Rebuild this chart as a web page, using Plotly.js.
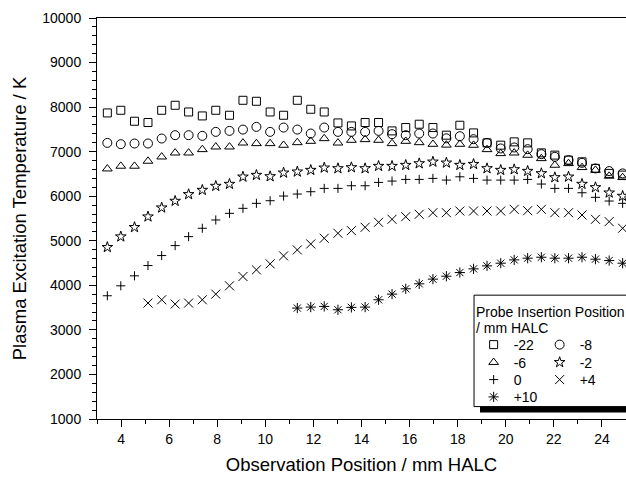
<!DOCTYPE html>
<html>
<head>
<meta charset="utf-8">
<script src="https://cdn.plot.ly/plotly-3.0.1.min.js"></script>
<style>html,body{margin:0;padding:0;background:#fff;}#chart{width:626px;height:477px;}</style>
</head>
<body>
<div id="chart"></div>
<script>
// Observation positions (mm HALC)
var obsPos = [3.43, 3.99, 4.56, 5.12, 5.69, 6.25, 6.81, 7.38, 7.94, 8.51, 9.07, 9.63, 10.20, 10.76, 11.33, 11.89, 12.45, 13.02, 13.58, 14.15, 14.71, 15.27, 15.84, 16.40, 16.97, 17.53, 18.09, 18.66, 19.22, 19.79, 20.35, 20.91, 21.48, 22.04, 22.61, 23.17, 23.73, 24.30, 24.86];

// Plasma excitation temperature (K) for each probe insertion position
var tMinus22 = [7869, 7929, 7683, 7654, 7929, 8041, 7891, 7802, 7929, 7817, 8153, 8131, 7891, 7817, 8153, 7952, 7891, 7645, 7578, 7654, 7654, 7466, 7541, 7616, 7541, 7370, 7593, 7421, 7197, 7146, 7220, 7197, 6973, 6922, 6810, 6772, 6624, 6512, 6474];
var tMinus8  = [7197, 7168, 7183, 7183, 7295, 7370, 7370, 7355, 7444, 7466, 7496, 7556, 7444, 7541, 7496, 7407, 7541, 7444, 7444, 7444, 7466, 7392, 7370, 7407, 7407, 7300, 7347, 7280, 7197, 7072, 7094, 7056, 6944, 6884, 6810, 6750, 6624, 6564, 6512];
var tMinus6  = [6615, 6676, 6676, 6788, 6884, 6973, 6973, 7049, 7108, 7108, 7197, 7183, 7183, 7146, 7205, 7235, 7295, 7197, 7258, 7273, 7258, 7183, 7235, 7205, 7168, 7150, 7168, 7146, 7049, 6959, 6973, 6922, 6847, 6698, 6735, 6646, 6586, 6452, 6422];
var tMinus2  = [4855, 5093, 5303, 5541, 5742, 5892, 6042, 6138, 6228, 6273, 6436, 6474, 6444, 6526, 6549, 6586, 6638, 6624, 6646, 6624, 6676, 6676, 6698, 6735, 6772, 6750, 6698, 6720, 6624, 6586, 6601, 6564, 6512, 6422, 6436, 6273, 6198, 6078, 6004];
var tZero    = [3766, 3989, 4213, 4444, 4668, 4892, 5093, 5281, 5467, 5616, 5728, 5840, 5899, 6004, 6049, 6101, 6176, 6176, 6235, 6235, 6310, 6340, 6377, 6377, 6400, 6362, 6436, 6400, 6362, 6362, 6362, 6377, 6273, 6176, 6176, 6078, 5975, 5892, 5840];
var tPlus4   = [null, null, null, 3602, 3676, 3580, 3602, 3676, 3803, 3989, 4198, 4347, 4482, 4661, 4795, 4929, 5056, 5168, 5228, 5303, 5415, 5482, 5541, 5594, 5630, 5630, 5668, 5668, 5668, 5668, 5706, 5675, 5706, 5630, 5630, 5579, 5482, 5430, 5281];
var tPlus10  = [null, null, null, null, null, null, null, null, null, null, null, null, null, null, 3490, 3512, 3527, 3452, 3505, 3512, 3676, 3803, 3922, 4034, 4139, 4205, 4287, 4370, 4437, 4497, 4571, 4609, 4631, 4609, 4609, 4631, 4587, 4556, 4497];

var seriesNames = ['-22', '-8', '-6', '-2', '0', '+4', '+10'];
var seriesData = [tMinus22, tMinus8, tMinus6, tMinus2, tZero, tPlus4, tPlus10];
var seriesSymbols = ['square-open', 'circle-open', 'triangle-up-open', 'star-open', 'cross-thin-open', 'x-thin-open', 'asterisk-open'];
var seriesSizes = [8, 9, 8.5, 8, 6.5, 9, 8.5];
var seriesLegend = ['legend', 'legend', 'legend2', 'legend2', 'legend3', 'legend3', 'legend4'];

var legendTitleLines = ['Probe Insertion Position', '/ mm HALC'];

var FONT = 'Liberation Sans, Arial, Helvetica, sans-serif';

var traces = seriesNames.map(function (nm, k) {
  return {
    type: 'scatter', mode: 'markers', name: nm,
    x: obsPos, y: seriesData[k],
    legend: seriesLegend[k],
    marker: {symbol: seriesSymbols[k], size: seriesSizes[k], color: '#000',
             line: {color: '#000', width: 1}},
    hoverinfo: 'x+y+name'
  };
});

function legendRow(yv) {
  return {
    x: 0.712, xanchor: 'left', y: yv, yanchor: 'middle',
    orientation: 'h', bgcolor: 'rgba(0,0,0,0)', borderwidth: 0,
    font: {family: FONT, size: 14, color: '#000'},
    entrywidth: 21, entrywidthmode: 'pixels',
    itemclick: false, itemdoubleclick: false, tracegroupgap: 0
  };
}

var layout = {
  width: 626, height: 477,
  margin: {l: 97, r: 0, t: 18, b: 58, pad: 0},
  paper_bgcolor: '#fff', plot_bgcolor: '#fff',
  font: {family: FONT, size: 14, color: '#000'},
  showlegend: true,
  xaxis: {
    range: [3, 25], tick0: 0, dtick: 2, ticks: 'outside', ticklen: 7, tickwidth: 1,
    tickcolor: '#000', showline: true, linecolor: '#000', linewidth: 1, mirror: true,
    showgrid: false, zeroline: false,
    minor: {dtick: 1, ticks: 'outside', ticklen: 4, tickwidth: 1, tickcolor: '#000', showgrid: false},
    tickfont: {family: FONT, size: 14, color: '#000'},
    title: {text: 'Observation Position / mm HALC', font: {family: FONT, size: 18.5, color: '#000'}, standoff: 12}
  },
  yaxis: {
    range: [1000, 10000], tick0: 0, dtick: 1000, tickformat: 'd', ticks: 'outside', ticklen: 7, tickwidth: 1,
    tickcolor: '#000', showline: true, linecolor: '#000', linewidth: 1, mirror: true,
    showgrid: false, zeroline: false, ticklabelstandoff: 5,
    minor: {dtick: 200, ticks: 'outside', ticklen: 4, tickwidth: 1, tickcolor: '#000', showgrid: false},
    tickfont: {family: FONT, size: 14, color: '#000'},
    title: {text: 'Plasma Excitation Temperature / K', font: {family: FONT, size: 18.5, color: '#000'}, standoff: 10}
  },
  legend: legendRow(0.1845),
  legend2: legendRow(0.1404),
  legend3: legendRow(0.0973),
  legend4: legendRow(0.0541),
  annotations: legendTitleLines.map(function (t, k) {
    return {text: t, xref: 'paper', yref: 'paper', x: 0.7146, xanchor: 'left',
            y: [0.2676, 0.2262][k], yanchor: 'middle', showarrow: false,
            font: {family: FONT, size: 14, color: '#000'}, borderpad: 0};
  }),
  shapes: [
    {type: 'rect', xref: 'paper', yref: 'paper', x0: 0.724, x1: 1.02, y0: 0.0160, y1: 0.0310,
     fillcolor: '#000', line: {width: 0}, layer: 'above'},
    {type: 'rect', xref: 'paper', yref: 'paper', x0: 0.7127, x1: 1.02, y0: 0.0310, y1: 0.3088,
     fillcolor: '#fff', line: {color: '#000', width: 1}, layer: 'above'}
  ]
};

Plotly.newPlot('chart', traces, layout, {displayModeBar: false, staticPlot: true});
</script>
</body>
</html>
